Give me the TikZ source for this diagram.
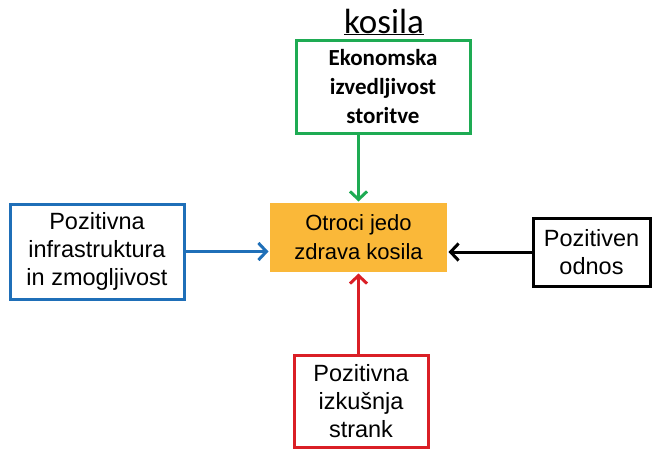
\documentclass[tikz,border=0pt]{standalone}
\usepackage{fontspec}
\setmainfont{Liberation Sans}
\newfontfamily\calibri{Carlito}
\usetikzlibrary{arrows.meta}
\definecolor{cgreen}{HTML}{1EAB53}
\definecolor{cblue}{HTML}{1F6FB8}
\definecolor{cred}{HTML}{DA1F26}
\definecolor{corange}{HTML}{FAB839}
\tikzset{
  box/.style={draw, line width=3pt, inner sep=0pt, align=center, fill=white},
  arr/.style={line width=3pt, -{Straight Barb[length=8pt,width=17pt,line width=3pt]}},
  atext/.style={font=\fontsize{23.5}{28}\selectfont},
}
\begin{document}
\begin{tikzpicture}[x=1pt,y=-1pt]
\useasboundingbox (0,0) rectangle (656,450);
\node[font=\calibri\fontsize{35}{40}\selectfont, anchor=base] (t) at (384,33) {\underline{kosila}};
\node[box, draw=cgreen, minimum width=174pt, minimum height=93pt,
      font=\calibri\bfseries\fontsize{23}{29}\selectfont] (g) at (383,86.5)
      {Ekonomska\\izvedljivost\\storitve};
\node[box, draw=none, fill=corange, minimum width=177pt, minimum height=69pt,
      font=\fontsize{22}{29}\selectfont] (o) at (358.5,237.5)
      {Otroci jedo\\zdrava kosila};
\node[box, draw=cblue, minimum width=174pt, minimum height=95pt, atext] (b) at (97,251.5)
      {Pozitivna\\infrastruktura\\in zmogljivost};
\node[box, draw=black, minimum width=117pt, minimum height=68pt, atext] (k) at (591.5,252)
      {Pozitiven\\odnos};
\node[box, draw=cred, minimum width=134pt, minimum height=92pt, atext] (r) at (361,401)
      {Pozitivna\\izkušnja\\strank};
\draw[arr, cgreen] (g.south -| o.north) -- (o.north);
\draw[arr, cred] (r.north -| o.south) -- (o.south);
\draw[arr, cblue] (b.east) -- (b.east -| o.west);
\draw[arr, black] (k.west) -- (k.west -| o.east);
\end{tikzpicture}
\end{document}
